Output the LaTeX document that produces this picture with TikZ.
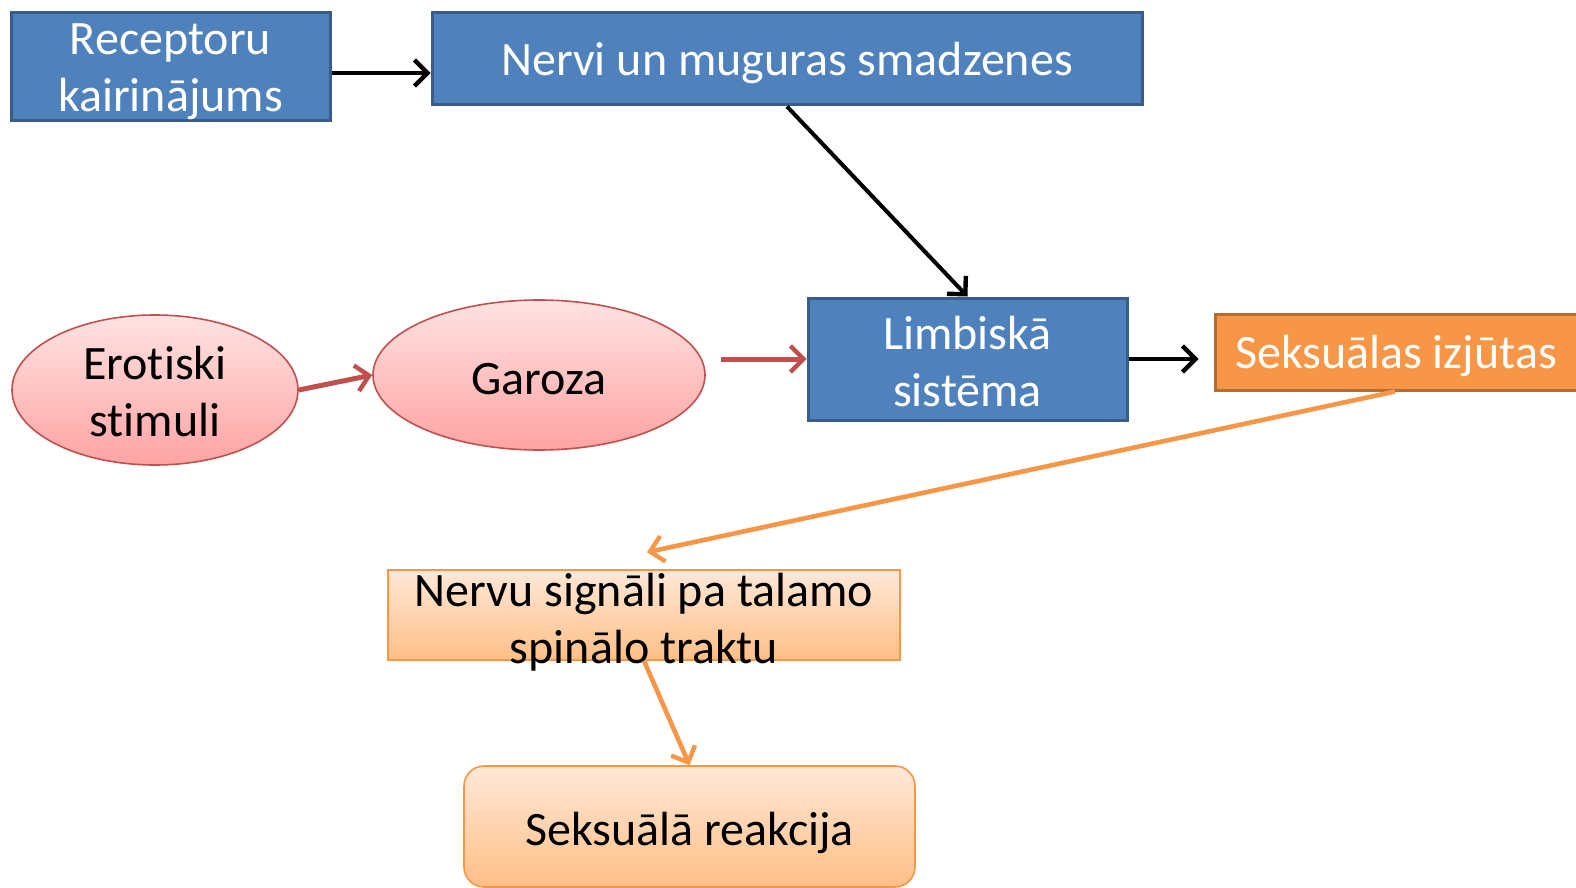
\documentclass[tikz,border=0pt]{standalone}
\usepackage{fontspec}
\setmainfont{Carlito}[Ligatures={NoCommon}]
\usetikzlibrary{arrows.meta,shapes.geometric}
\definecolor{bluefill}{HTML}{4F81BD}
\definecolor{blueline}{HTML}{385D8A}
\definecolor{orfill}{HTML}{F79646}
\definecolor{orline}{HTML}{B66D31}
\definecolor{redline}{HTML}{C0504D}
\definecolor{pinktop}{HTML}{FFE3E3}
\definecolor{pinkbot}{HTML}{FFA3A3}
\definecolor{ltop}{HTML}{FFE8D8}
\definecolor{lbot}{HTML}{FFBF86}
\tikzset{
  txt/.style={font=\fontsize{24}{28.5}\selectfont, align=center, inner sep=0pt},
  wtxt/.style={txt, text=white},
  bluebox/.style={draw=blueline, fill=bluefill, line width=1.5pt, inner sep=0pt},
  orbox/.style={draw=orline, fill=orfill, line width=1.5pt, inner sep=0pt},
  pinkell/.style={ellipse, draw=redline, line width=0.8pt, top color=pinktop, bottom color=pinkbot, inner sep=0pt},
  lightbox/.style={draw=orfill, line width=0.8pt, top color=ltop, bottom color=lbot, inner sep=0pt},
  blk/.style={draw=black, line width=2pt, -{Straight Barb[length=6.5pt,width=13pt,line width=2.2pt]}},
  redarr/.style={draw=redline, line width=2.5pt, -{Straight Barb[length=6.5pt,width=13pt,line width=2.2pt]}},
  orarr/.style={draw=orfill, line width=2.3pt, -{Straight Barb[length=6.5pt,width=13pt,line width=2.2pt]}},
}
\begin{document}
\begin{tikzpicture}[x=0.5pt,y=-0.5pt]
\useasboundingbox (0,0) rectangle (1576,888);
\clip (0,0) rectangle (1576,888);
% shapes
\node[bluebox, minimum width=159.5pt, minimum height=54pt] (rec) at (170.5,67) {};
\node[bluebox, minimum width=355pt, minimum height=46pt] (nervi) at (787,59) {};
\node[bluebox, minimum width=159.5pt, minimum height=61pt] (limb) at (967.5,359) {};
\node[orbox, minimum width=185pt, minimum height=38pt] (seks) at (1400,352) {};
\node[pinkell, minimum width=143pt, minimum height=75pt] (ero) at (155,390) {};
\node[pinkell, minimum width=166pt, minimum height=75pt] (gar) at (539,375) {};
\node[lightbox, minimum width=256pt, minimum height=45pt] (nsig) at (644,615) {};
\node[lightbox, rounded corners=10pt, minimum width=225.5pt, minimum height=60.5pt] (reak) at (689.5,826.5) {};
% texts
\node[wtxt] (rec-t) at ([yshift=-2.5pt]rec.center) {Receptoru\\kairinājums};
\node[wtxt] (nervi-t) at ([yshift=-2pt]nervi.center) {Nervi un muguras smadzenes};
\node[wtxt] (limb-t) at ([yshift=-1.5pt]limb.center) {Limbiskā\\sistēma};
\node[wtxt] (seks-t) at ([xshift=-2pt,yshift=-2pt]seks.center) {Seksuālas izjūtas};
\node[txt] (ero-t) at ([yshift=-1pt]ero.center) {Erotiski\\stimuli};
\node[txt] (gar-t) at ([yshift=-2pt]gar.center) {Garoza};
\node[txt] (nsig-t) at ([yshift=-3.5pt]nsig.center) {Nervu signāli pa talamo\\spinālo traktu};
\node[txt] (reak-t) at ([yshift=-3pt]reak.center) {Seksuālā reakcija};
% connectors
\draw[blk] ([yshift=-3pt]rec.east) -- ([yshift=-7pt]nervi.west);
\draw[blk] (nervi.south) -- (limb.north);
\draw[redarr] (ero.east) -- (gar.west);
\draw[redarr] ([xshift=7.5pt]gar.east |- limb.west) -- (limb.west);
\draw[blk] (limb.east) -- ([xshift=-7.5pt]seks.west |- limb.east);
\draw[orarr] ([xshift=-2.5pt]seks.south) -- ([xshift=1.5pt,yshift=8.5pt]nsig.north);
\draw[orarr] (nsig.south) -- (reak.north);
\end{tikzpicture}
\end{document}
